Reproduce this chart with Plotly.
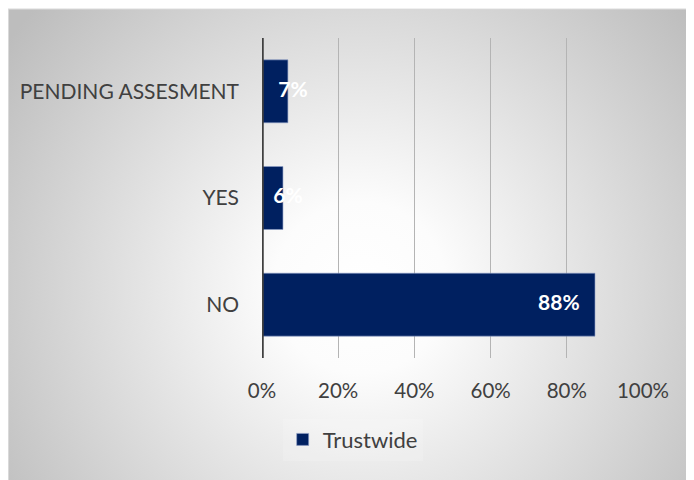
import base64
import plotly.graph_objects as go

categories = ["NO", "YES", "PENDING ASSESMENT"]
values = [0.874, 0.055, 0.068]
labels = ["88%", "6%", "7%"]
series_name = "Trustwide"
x_ticks = [0, 0.2, 0.4, 0.6, 0.8, 1.0]
x_ticktext = ["0%", "20%", "40%", "60%", "80%", "100%"]

NAVY = "#002060"
FONT = "Lato"
NB = "\u00a0"

W, H = 694, 480
ml, mt, pw, ph = 254, 29.5, 381, 321
mr = W - ml - pw
mb = H - mt - ph

svg = (
    '<svg xmlns="http://www.w3.org/2000/svg" width="694" height="480" '
    'preserveAspectRatio="none" viewBox="0 0 694 480">'
    '<defs><radialGradient id="g" gradientUnits="userSpaceOnUse" cx="352" cy="280" r="430">'
    '<stop offset="0" stop-color="#ffffff"/>'
    '<stop offset="0.2" stop-color="#fcfcfc"/>'
    '<stop offset="1" stop-color="#bdbdbd"/>'
    '</radialGradient></defs>'
    '<rect x="0" y="0" width="694" height="480" fill="url(#g)"/>'
    '<rect x="0.5" y="0.5" width="700" height="490" fill="none" stroke="#d9d9d9" stroke-width="1"/>'
    '</svg>'
)
src = "data:image/svg+xml;base64," + base64.b64encode(svg.encode()).decode()

# label placement style: large bar -> inside end, small bars -> straddling the bar end
label_text = []
label_pos = []
for v, t in zip(values, labels):
    if v > 0.2:
        label_text.append(t + NB * 3)
        label_pos.append("middle left")
    else:
        label_text.append(NB * 2 + t)
        label_pos.append("middle center")

fig = go.Figure()
fig.add_trace(go.Bar(
    y=categories, x=values, orientation="h", name=series_name,
    marker=dict(color=NAVY, line=dict(color="#8ea0c8", width=0.6)),
    width=0.59, showlegend=True, hoverinfo="x+y",
))
fig.add_trace(go.Scatter(
    y=categories, x=values, mode="text", text=label_text,
    textposition=label_pos,
    textfont=dict(family=FONT, size=21, color="white", weight="bold"),
    showlegend=False, hoverinfo="skip", cliponaxis=False,
))

fig.update_layout(
    width=W, height=H,
    margin=dict(l=ml, r=mr, t=mt, b=mb, autoexpand=False),
    paper_bgcolor="white", plot_bgcolor="rgba(0,0,0,0)",
    font=dict(family=FONT, size=21, color="#404040"),
    images=[dict(
        source=src, xref="paper", yref="paper",
        x=-ml / pw, y=(H - mb) / ph,
        sizex=W / pw, sizey=H / ph,
        xanchor="left", yanchor="top", sizing="stretch", layer="below",
    )],
    xaxis=dict(
        range=[0, 1.0], tickvals=x_ticks, ticktext=x_ticktext,
        showgrid=True, gridcolor="#b4b4b4", gridwidth=1,
        zeroline=False, showline=False, ticks="", ticklabelstandoff=18,
        tickfont=dict(size=20.5),
        fixedrange=True,
    ),
    yaxis=dict(
        range=[-0.5, 2.5], showgrid=False, zeroline=False,
        showline=False, ticks="", ticklabelstandoff=22,
        tickfont=dict(size=21),
    ),
    legend=dict(
        orientation="h", x=0.238, xanchor="center", y=-0.255, yanchor="middle",
        bgcolor="rgba(255,255,255,0.15)", font=dict(size=22, color="#404040"),
        itemwidth=30,
    ),
    shapes=[dict(
        type="line", xref="x", yref="paper", x0=0, x1=0, y0=0, y1=1,
        line=dict(color="#404040", width=3.5), layer="above",
    )],
)

fig.write_html("out.html")
